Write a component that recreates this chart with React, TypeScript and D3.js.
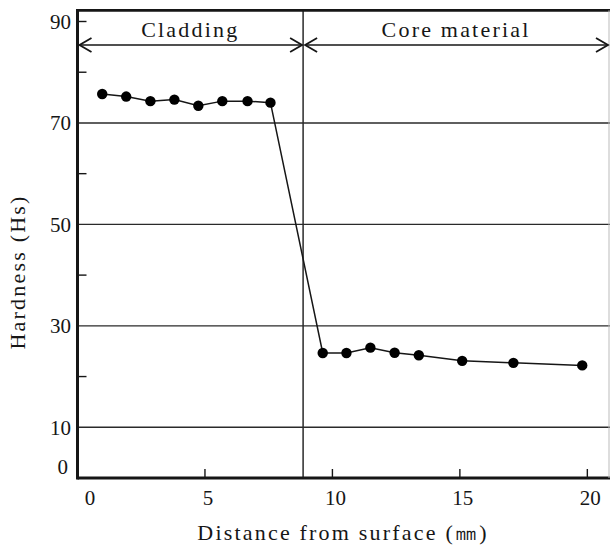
import React from "react";
import * as d3 from "d3";

// distance from surface (mm) and hardness (Hs)
const claddingDist = [0.97, 1.91, 2.86, 3.8, 4.74, 5.68, 6.67, 7.57];
const claddingHard = [75.7, 75.2, 74.3, 74.6, 73.4, 74.3, 74.3, 74.0];
const coreDist = [9.62, 10.55, 11.49, 12.44, 13.39, 15.09, 17.1, 19.8];
const coreHard = [24.65, 24.65, 25.7, 24.7, 24.2, 23.1, 22.7, 22.2];

const boundary = 8.85;
const xTicks = [0, 5, 10, 15, 20];
const yLabelled = [0, 10, 30, 50, 70, 90];
const yGrid = [10, 30, 50, 70];
const yMinor = [20, 40, 60, 80, 90];
const regions = [
  { name: "Cladding", from: 0, to: boundary },
  { name: "Core material", from: boundary, to: 20.85 },
];

const W = 610;
const H = 545;
const serif = "'Liberation Serif', 'DejaVu Serif', serif";
const ink = "#161616";

export default function App() {
  const x = d3.scaleLinear().domain([0, 20.85]).range([77.5, 609]);
  const y = d3.scaleLinear().domain([0, 90]).range([478, 21.5]);
  const top = y(92.2);
  const bottom = y(0);

  const pts = [
    ...claddingDist.map((d, i) => [d, claddingHard[i]]),
    ...coreDist.map((d, i) => [d, coreHard[i]]),
  ] as [number, number][];

  const line = d3
    .line<[number, number]>()
    .x((d) => x(d[0]))
    .y((d) => y(d[1]));

  const arrowY = 45;

  return (
    <svg
      width={W}
      height={H}
      style={{ position: "absolute", left: 0, top: 0, background: "#fff" }}
    >
      {/* gridlines */}
      {yGrid.map((v) => (
        <line key={v} x1={x(0)} x2={W} y1={y(v)} y2={y(v)} stroke="#2a2a2a" strokeWidth={1.4} />
      ))}
      {/* short ticks on the left axis */}
      {yMinor.map((v) => (
        <line key={v} x1={x(0)} x2={x(0) + 9} y1={y(v)} y2={y(v)} stroke={ink} strokeWidth={1.4} />
      ))}
      {/* ticks on the bottom axis */}
      {xTicks.filter((t) => t > 0).map((t) => (
        <line key={t} x1={x(t)} x2={x(t)} y1={bottom} y2={bottom - 9} stroke={ink} strokeWidth={1.4} />
      ))}
      {/* region divider */}
      <line x1={x(boundary)} x2={x(boundary)} y1={top} y2={bottom} stroke="#2a2a2a" strokeWidth={1.5} />
      {/* frame */}
      <line x1={x(0)} x2={W} y1={top} y2={top} stroke={ink} strokeWidth={2.6} />
      <line x1={x(0)} x2={W} y1={bottom} y2={bottom} stroke={ink} strokeWidth={3} />
      <line x1={x(0)} x2={x(0)} y1={top - 1.3} y2={bottom + 1.5} stroke={ink} strokeWidth={3} />
      <line x1={W - 1} x2={W - 1} y1={top} y2={bottom} stroke="#bbb" strokeWidth={1} />

      {/* region arrows */}
      {regions.map((r) => {
        const a = x(r.from) + 2;
        const b = x(r.to) - 1;
        return (
          <g key={r.name}>
            <line x1={a} x2={b} y1={arrowY} y2={arrowY} stroke={ink} strokeWidth={1.4} />
            <path
              d={`M${a + 12},${arrowY - 7} L${a},${arrowY} L${a + 12},${arrowY + 7}`}
              fill="none"
              stroke={ink}
              strokeWidth={1.8}
            />
            <path
              d={`M${b - 12},${arrowY - 7} L${b},${arrowY} L${b - 12},${arrowY + 7}`}
              fill="none"
              stroke={ink}
              strokeWidth={1.8}
            />
            <text
              x={(x(r.from) + x(r.to)) / 2}
              y={37}
              textAnchor="middle"
              fontFamily={serif}
              fontSize={22}
              letterSpacing={2.2}
              fill={ink}
            >
              {r.name}
            </text>
          </g>
        );
      })}

      {/* data */}
      <path d={line(pts) ?? ""} fill="none" stroke={ink} strokeWidth={1.5} />
      {pts.map((p, i) => (
        <circle key={i} cx={x(p[0])} cy={y(p[1])} r={5.2} fill="#000" />
      ))}

      {/* tick labels */}
      {yLabelled.map((v) => (
        <text
          key={v}
          x={v === 0 ? 68 : 71}
          y={v === 0 ? y(v) - 11 : y(v)}
          dy="0.35em"
          textAnchor="end"
          fontFamily={serif}
          fontSize={21}
          fill={ink}
        >
          {v}
        </text>
      ))}
      {xTicks.map((t) => (
        <text
          key={t}
          x={t === 0 ? 90 : x(t) + 3}
          y={505}
          textAnchor="middle"
          fontFamily={serif}
          fontSize={21}
          fill={ink}
        >
          {t}
        </text>
      ))}

      {/* axis titles */}
      <text
        x={343}
        y={540}
        textAnchor="middle"
        fontFamily={serif}
        fontSize={22}
        letterSpacing={2.2}
        fill={ink}
      >
        Distance from surface (㎜)
      </text>
      <text
        transform="translate(25,272) rotate(-90)"
        textAnchor="middle"
        fontFamily={serif}
        fontSize={22}
        letterSpacing={2.2}
        fill={ink}
      >
        Hardness (Hs)
      </text>
    </svg>
  );
}
